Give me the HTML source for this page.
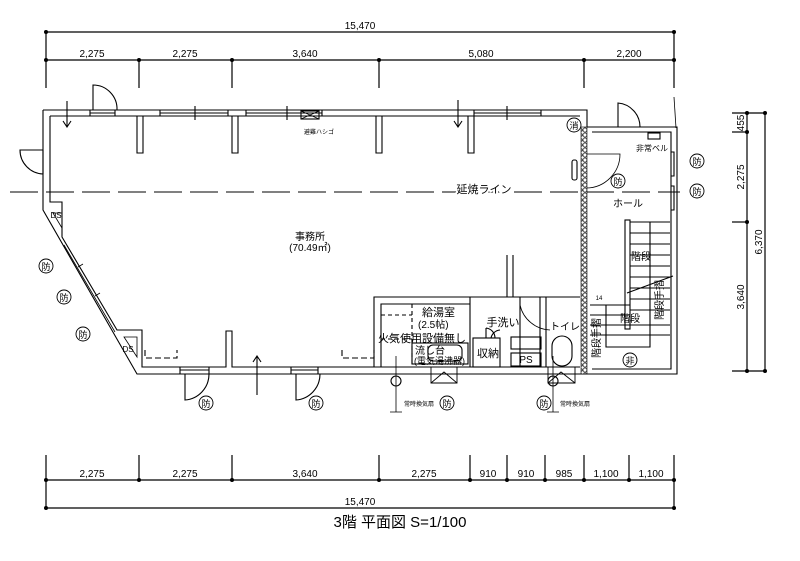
<!DOCTYPE html>
<html><head><meta charset="utf-8"><style>
html,body{margin:0;padding:0;background:#fff}
svg{display:block}
text{font-family:"Liberation Sans","Noto Sans CJK JP",sans-serif;fill:#000}
</style></head><body>
<svg width="800" height="561" viewBox="0 0 800 561" xmlns="http://www.w3.org/2000/svg">
<defs>
<pattern id="hx" width="5" height="5" patternUnits="userSpaceOnUse"><rect width="5" height="5" fill="#fff"/><circle cx="2.5" cy="2.5" r="1.8" fill="none" stroke="#000" stroke-width="0.8"/></pattern>
</defs>
<g stroke="#000" stroke-width="1.2" fill="none">
<line x1="46" y1="32" x2="674" y2="32"/>
<line x1="46" y1="60" x2="674" y2="60"/>
<line x1="46" y1="32" x2="46" y2="88"/>
<line x1="674" y1="32" x2="674" y2="88"/>
<line x1="674" y1="97" x2="676" y2="128" stroke-width="0.8"/>
<line x1="139" y1="60" x2="139" y2="88"/>
<line x1="232" y1="60" x2="232" y2="88"/>
<line x1="379" y1="60" x2="379" y2="88"/>
<line x1="584" y1="60" x2="584" y2="88"/>
<line x1="46" y1="480" x2="674" y2="480"/>
<line x1="46" y1="508" x2="674" y2="508"/>
<line x1="46" y1="455" x2="46" y2="508"/>
<line x1="674" y1="455" x2="674" y2="508"/>
<line x1="139" y1="455" x2="139" y2="480"/>
<line x1="232" y1="455" x2="232" y2="480"/>
<line x1="379" y1="455" x2="379" y2="480"/>
<line x1="470" y1="455" x2="470" y2="480"/>
<line x1="507" y1="455" x2="507" y2="480"/>
<line x1="545" y1="455" x2="545" y2="480"/>
<line x1="584" y1="455" x2="584" y2="480"/>
<line x1="629" y1="455" x2="629" y2="480"/>
<line x1="747" y1="113" x2="747" y2="371"/>
<line x1="765" y1="113" x2="765" y2="371"/>
<line x1="732" y1="113" x2="765" y2="113"/>
<line x1="732" y1="371" x2="765" y2="371"/>
<line x1="732" y1="132" x2="747" y2="132"/>
<line x1="732" y1="222" x2="747" y2="222"/>
</g>
<g fill="#000">
<circle cx="46" cy="32" r="2"/><circle cx="674" cy="32" r="2"/>
<circle cx="46" cy="60" r="2"/><circle cx="139" cy="60" r="2"/><circle cx="232" cy="60" r="2"/><circle cx="379" cy="60" r="2"/><circle cx="584" cy="60" r="2"/><circle cx="674" cy="60" r="2"/>
<circle cx="46" cy="480" r="2"/><circle cx="139" cy="480" r="2"/><circle cx="232" cy="480" r="2"/><circle cx="379" cy="480" r="2"/><circle cx="470" cy="480" r="2"/><circle cx="507" cy="480" r="2"/><circle cx="545" cy="480" r="2"/><circle cx="584" cy="480" r="2"/><circle cx="629" cy="480" r="2"/><circle cx="674" cy="480" r="2"/>
<circle cx="46" cy="508" r="2"/><circle cx="674" cy="508" r="2"/>
<circle cx="747" cy="113" r="2"/><circle cx="765" cy="113" r="2"/><circle cx="747" cy="132" r="2"/><circle cx="747" cy="222" r="2"/><circle cx="747" cy="371" r="2"/><circle cx="765" cy="371" r="2"/>
</g>
<g font-size="10" text-anchor="middle">
<text x="360" y="29">15,470</text>
<text x="92" y="57">2,275</text><text x="185" y="57">2,275</text><text x="305" y="57">3,640</text><text x="481" y="57">5,080</text><text x="629" y="57">2,200</text>
<text x="92" y="477">2,275</text><text x="185" y="477">2,275</text><text x="305" y="477">3,640</text><text x="424" y="477">2,275</text><text x="488" y="477">910</text><text x="526" y="477">910</text><text x="564" y="477">985</text><text x="606" y="477">1,100</text><text x="651" y="477">1,100</text>
<text x="360" y="505">15,470</text>
<text transform="translate(744,123) rotate(-90)">455</text>
<text transform="translate(744,177) rotate(-90)">2,275</text>
<text transform="translate(744,297) rotate(-90)">3,640</text>
<text transform="translate(762,242) rotate(-90)">6,370</text>
</g>
<text x="400" y="527" font-size="15" text-anchor="middle">3階 平面図 S=1/100</text>

<g stroke="#000" stroke-width="1.1" fill="none">
<path d="M43,110 L587,110 L587,127 M43,110 L43,210 L137,374 L587,374"/>
<path d="M50,116 L580,116 M50,116 L50,202 L62,202 L62,237 L117,330 L142,330 L142,367 L226,367 L226,331 L232,331 L232,367 L580,367"/>
<path d="M137,116 V153 H143 V116 M232,116 V153 H238 V116 M376,116 V153 H382 V116 M468,116 V153 H474 V116"/>
<path d="M90,110 V116 M115,110 V116 M90,113 H115 M160,110 V116 M228,110 V116 M160,113 H228 M195,106 V120 M246,110 V116 M322,110 V116 M246,113 H322 M287,106 V120 M474,110 V116 M541,110 V116 M474,113 H541 M507,106 V120"/>
<path d="M64,245 L115,332" stroke-width="0.8"/>
<path d="M78,267 L83,264 M95,296 L100,293" stroke-width="0.8"/>
<path d="M180,367 V374 M209,367 V374 M180,370 H209 M291,367 V374 M318,367 V374 M291,370 H318"/>
<path d="M93,110 V85 A24,24 0 0 1 117,110"/>
<path d="M43,150 H20 A24,24 0 0 0 43,174 M43,150 V174"/>
<path d="M185,374 V400 A26,26 0 0 0 209,374"/>
<path d="M296,374 V400 A26,26 0 0 0 320,374"/>
<path d="M618,127 V103 A24,24 0 0 1 640,127"/>
<path d="M586,154 H620 A34,34 0 0 1 586,188" stroke-width="0.8"/>
<path d="M67,101 V127 M63,121 L67,127 L71,121"/>
<path d="M458,100 V127 M454,121 L458,127 L462,121"/>
<path d="M257,395 V356 M253,362 L257,356 L261,362"/>
<path d="M587,127 H677 V374 H587 M592,132 H671 V369 H592"/>
<path d="M671,152 H674 V176 H671 M671,186 H674 V210 H671"/>
<rect x="625" y="220" width="5" height="109"/>
<path d="M630,222 H670 M630,233 H670 M630,244 H670 M630,255 H670 M630,266 H670 M630,277 H670 M630,288 H670 M630,299 H670 M630,310 H670 M590,305 H630 M590,315 H630 M590,325 H670 M590,335 H670"/>
<path d="M650,222 V347 H606 V305 M627,293 L673,276"/>
<path d="M53,213 L62,213 L62,228 Z M124,337 L137,337 L137,357 Z" stroke-width="0.8"/>
<path d="M145,350 V358 H177 V350" stroke-dasharray="6,3"/>
<path d="M342,350 V358 H374 V350" stroke-dasharray="6,3"/>
<path d="M374,367 V297 H580 M381,367 V304 H470 V367 M470,297 V367 M507,255 V297 M513,255 V297 M520,297 V367 M540,297 V367 M546,297 V367"/>
<path d="M412,304 V367 M381,339 H412 M381,315 H412" stroke-dasharray="4,3"/>
<rect x="412" y="343" width="56" height="21"/>
<rect x="428" y="345" width="34" height="16" rx="5"/>
<rect x="473" y="338" width="27" height="29"/>
<rect x="511" y="337" width="30" height="12"/>
<rect x="511" y="353" width="30" height="13"/>
<rect x="552" y="336" width="20" height="30" rx="10"/>
<path d="M520,305 A32,32 0 0 0 550,330" stroke-width="0.8"/>
<path d="M486,328 A10,10 0 0 1 495,338 M486,328 V338 M500,330 A10,10 0 0 0 491,338"/>
<path d="M431,367 V383 H457 V367 M431,383 L444,372 L457,383" stroke-width="0.9"/>
<path d="M548,367 V383 H575 V367 M548,383 L561,372 L575,383" stroke-width="0.9"/>
<path d="M396,356 V412 M390,412 H402 M553,356 V412 M547,412 H559" stroke-width="0.8"/>
<circle cx="396" cy="381" r="5"/><circle cx="553" cy="381" r="5"/>
<rect x="301" y="111" width="18" height="8"/>
<path d="M301,111 L319,119 M319,111 L301,119" stroke-width="0.7"/>
<rect x="648" y="133" width="12" height="6"/>
<rect x="572" y="160" width="5" height="20" rx="2"/>
<path d="M10,192 H680" stroke-dasharray="28,8"/>
</g>
<rect x="581" y="127" width="6" height="247" fill="url(#hx)" stroke="#000" stroke-width="0.6"/>
<g font-size="10" text-anchor="middle">
<text x="484" y="193" font-size="11" style="paint-order:stroke" stroke="#fff" stroke-width="4">延焼ライン</text>
<text x="310" y="240">事務所</text>
<text x="310" y="251">(70.49㎡)</text>
<text x="628" y="207">ホール</text>
<text x="652" y="151" font-size="8">非常ベル</text>
<text x="641" y="260">階段</text>
<text x="630" y="322">階段</text>
<text x="319" y="134" font-size="6">避難ハシゴ</text>
<text x="422" y="316" text-anchor="start" font-size="11">給湯室</text>
<text x="418" y="328" text-anchor="start" font-size="10">(2.5帖)</text>
<text x="378" y="342" text-anchor="start" font-size="11">火気使用設備無し</text>
<text x="415" y="354" text-anchor="start" font-size="10">流し台</text>
<text x="414" y="364" text-anchor="start" font-size="9">(電気湯沸器)</text>
<text x="503" y="326" font-size="11">手洗い</text>
<text x="488" y="357" font-size="11">収納</text>
<text x="526" y="363" font-size="10">PS</text>
<text x="565" y="330" font-size="10">トイレ</text>
<text x="404" y="406" font-size="6" text-anchor="start">常時換気扇</text>
<text x="560" y="406" font-size="6" text-anchor="start">常時換気扇</text>
<text x="56" y="218" font-size="8">DS</text>
<text x="128" y="352" font-size="8">DS</text>
<text x="599" y="300" font-size="6">14</text>
</g>
<g font-size="10" text-anchor="middle">
<text transform="translate(600,338) rotate(-90)">階段手摺</text>
<text transform="translate(663,300) rotate(-90)">階段手摺</text>
</g>
<g fill="none" stroke="#000" stroke-width="0.9">
<circle cx="46" cy="266" r="7"/><circle cx="64" cy="297" r="7"/><circle cx="83" cy="334" r="7"/>
<circle cx="206" cy="403" r="7"/><circle cx="316" cy="403" r="7"/><circle cx="447" cy="403" r="7"/><circle cx="544" cy="403" r="7"/>
<circle cx="618" cy="181" r="7"/><circle cx="697" cy="161" r="7"/><circle cx="697" cy="191" r="7"/>
<circle cx="574" cy="125" r="7"/><circle cx="630" cy="360" r="7"/>
</g>
<g font-size="9" text-anchor="middle">
<text x="46" y="270">防</text><text x="64" y="301">防</text><text x="83" y="338">防</text>
<text x="206" y="407">防</text><text x="316" y="407">防</text><text x="447" y="407">防</text><text x="544" y="407">防</text>
<text x="618" y="185">防</text><text x="697" y="165">防</text><text x="697" y="195">防</text>
<text x="574" y="129">消</text><text x="630" y="364">非</text>
</g>
</svg>
</body></html>
